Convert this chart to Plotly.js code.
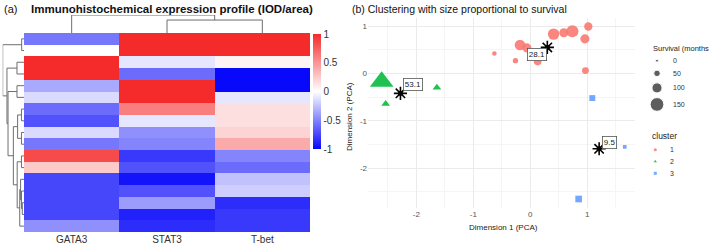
<!DOCTYPE html>
<html>
<head>
<meta charset="utf-8">
<script src="https://cdn.plot.ly/plotly-3.0.1.min.js"></script>
<style>html,body{margin:0;padding:0;background:#fff;}#chart{width:709px;height:245px;}</style>
</head>
<body>
<div id="chart"></div>
<script>
// ---------- Panel (a): heatmap data ----------
const colLabels = ['GATA3', 'STAT3', 'T-bet'];
const gata3 = [-0.55, 0, 1, 1, -0.35, -0.15, -0.6, -0.7, -0.15, -0.55, 0.85, 0.25, -0.75, -0.75, -0.75, -0.75, -0.45];
const stat3 = [1, 1, -0.1, -0.6, 1, 1, 0.6, -0.1, -0.45, -0.5, -0.8, -0.7, -0.95, -0.7, -0.4, -0.9, -0.85];
const tbet  = [1, 1, 0.05, -1, -1, -0.1, 0.15, 0.15, 0.2, 0.4, -0.5, -0.6, -0.25, -0.2, -0.85, -0.8, -0.8];
const colorbarTicks = [-1, -0.5, 0, 0.5, 1];

// Row dendrogram (hclust-style merges: negative = leaf, positive = earlier merge)
const rowMerge = [[-1,-2],[-3,-4],[-5,-6],[-7,-8],[-9,-10],[4,5],[-11,-12],[-15,-16],[-14,8],[-13,9],[10,-17],[7,11],[6,12],[3,13],[2,14],[1,15]];
const rowHeight = [0.11, 0.33, 0.33, 0.12, 0.12, 0.30, 0.12, 0.08, 0.12, 0.16, 0.20, 0.32, 0.50, 0.75, 0.80, 1.00];
// Column dendrogram
const colMerge = [[-2,-3],[-1,1]];
const colHeight = [0.72, 1.0];

// ---------- Panel (b): scatter data ----------
const c1x = [-0.63, -0.26, -0.18, -0.06, 0.13, 0.41, 0.59, 0.74, 0.96, 1.02, 0.97];
const c1y = [0.42, 0.27, 0.60, 0.54, 0.25, 0.83, 0.86, 0.89, 0.73, 0.99, 0.06];
const c1surv = [19, 29, 96, 77, 58, 106, 77, 116, 77, 67, 48];
const c2x = [-2.61, -1.64, -2.54];
const c2y = [-0.17, -0.30, -0.64];
const c2surv = [150, 30, 30];
const c3x = [1.09, 1.66, 0.85];
const c3y = [-0.52, -1.55, -2.65];
const c3surv = [42, 11, 52];
const centroidX = [0.30, -2.28, 1.21];
const centroidY = [0.55, -0.42, -1.59];
const centroidLabel = ['28.1', '53.1', '9.5'];
const clusterNames = ['1', '2', '3'];
const survivalBreaks = [0, 50, 100, 150];
const xTicks = [-2, -1, 0, 1];
const yTicks = [-2, -1, 0, 1];

// ---------- helpers ----------
const W = 709, H = 245;
const px = v => v / W;
const py = v => 1 - v / H;
function circleSize(s) { return 2.9 + 0.072 * s; }
const symScale = {circle: 1.08, 'triangle-up': 1.5, square: 1.0};
const clusterColors = ['#F8766D', '#00BA38', '#619CFF'];
const clusterSymbols = ['circle', 'triangle-up', 'square'];

function dendro(merge, height) {
  const nodePos = [], nodeH = [], Hs = [], Ps = [];
  const info = id => id < 0 ? [(-id) - 1, 0] : [nodePos[id - 1], nodeH[id - 1]];
  merge.forEach((m, k) => {
    const [pa, ha] = info(m[0]);
    const [pb, hb] = info(m[1]);
    const h = height[k];
    Hs.push(ha, h, h, hb, null);
    Ps.push(pa, pa, pb, pb, null);
    nodePos.push((pa + pb) / 2);
    nodeH.push(h);
  });
  return {H: Hs, P: Ps};
}

const nRows = gata3.length;
const z = gata3.map((g, i) => [g, stat3[i], tbet[i]]);
const rowIdx = gata3.map((_, i) => i);

const traces = [];
traces.push({
  type: 'heatmap', z: z, x: [0, 1, 2], y: rowIdx, xaxis: 'x', yaxis: 'y',
  zmin: -1, zmax: 1,
  colorscale: [[0, 'rgb(8,8,250)'], [0.5, 'rgb(255,255,255)'], [1, 'rgb(245,42,42)']],
  hoverinfo: 'skip',
  colorbar: {
    x: px(313), xanchor: 'left', xref: 'paper', y: py(34), yanchor: 'top', yref: 'paper',
    len: 115, lenmode: 'pixels', thickness: 8, thicknessmode: 'pixels',
    outlinewidth: 0, xpad: 0, ypad: 0, ticks: '',
    tickvals: colorbarTicks, ticktext: colorbarTicks.map(String),
    tickfont: {size: 10, color: '#333', family: 'Liberation Sans, Arial, sans-serif'}
  }
});

const rd = dendro(rowMerge, rowHeight);
traces.push({type: 'scatter', mode: 'lines', x: rd.H, y: rd.P, xaxis: 'x3', yaxis: 'y',
  line: {color: '#6e6e6e', width: 1}, hoverinfo: 'skip', connectgaps: false});
const cd = dendro(colMerge, colHeight);
traces.push({type: 'scatter', mode: 'lines', x: cd.P, y: cd.H, xaxis: 'x', yaxis: 'y3',
  line: {color: '#6e6e6e', width: 1}, hoverinfo: 'skip', connectgaps: false});

// scatter points
const groups = [[c1x, c1y, c1surv], [c2x, c2y, c2surv], [c3x, c3y, c3surv]];
groups.forEach((g, k) => {
  traces.push({type: 'scatter', mode: 'markers', x: g[0], y: g[1], xaxis: 'x2', yaxis: 'y2',
    marker: {symbol: clusterSymbols[k], color: clusterColors[k], opacity: 0.88,
      size: g[2].map(s => circleSize(s) * symScale[clusterSymbols[k]]), line: {width: 0}},
    hoverinfo: 'skip'});
});
// centroids
traces.push({type: 'scatter', mode: 'markers', x: centroidX, y: centroidY, xaxis: 'x2', yaxis: 'y2',
  marker: {symbol: 'asterisk-open', size: 11, color: '#000', line: {color: '#000', width: 1.6}}, hoverinfo: 'skip'});
traces.push({type: 'scatter', mode: 'markers', x: centroidX, y: centroidY, xaxis: 'x2', yaxis: 'y2',
  marker: {symbol: 'circle', size: 5, color: '#000'}, hoverinfo: 'skip'});

// legends (drawn on a pixel overlay axis)
const legSizes = survivalBreaks.map(circleSize);
const legY = [60.7];
for (let i = 1; i < legSizes.length; i++) legY.push(legY[i - 1] + 10.1 + 0.27 * (legSizes[i - 1] + legSizes[i]));
traces.push({type: 'scatter', mode: 'markers', x: survivalBreaks.map(() => 657), y: legY, xaxis: 'x4', yaxis: 'y4',
  marker: {color: '#1a1a1a', size: legSizes}, hoverinfo: 'skip', cliponaxis: false});
const clY = clusterNames.map((_, i) => 149.7 + i * 11.8);
traces.push({type: 'scatter', mode: 'markers', x: clusterNames.map(() => 655.3), y: clY, xaxis: 'x4', yaxis: 'y4',
  marker: {color: clusterColors, symbol: clusterSymbols, size: 3, opacity: 0.85}, hoverinfo: 'skip', cliponaxis: false});

const FONT = 'Liberation Sans, Arial, sans-serif';
const ann = [];
ann.push({xref: 'paper', yref: 'paper', x: px(2), y: py(9), xanchor: 'left', yanchor: 'middle', showarrow: false,
  text: '(a)', font: {size: 11, color: '#111', family: FONT}});
ann.push({xref: 'paper', yref: 'paper', x: px(171.7), y: py(9), xanchor: 'center', yanchor: 'middle', showarrow: false,
  text: '<b>Immunohistochemical expression profile (IOD/area)</b>', font: {size: 11.5, color: '#111', family: FONT}});
ann.push({xref: 'paper', yref: 'paper', x: px(350), y: py(9), xanchor: 'left', yanchor: 'middle', showarrow: false,
  text: '(b) Clustering with size proportional to survival', font: {size: 10.5, color: '#111', family: FONT}});
ann.push({xref: 'paper', yref: 'paper', x: px(503), y: py(227), xanchor: 'center', yanchor: 'middle', showarrow: false,
  text: 'Dimension 1 (PCA)', font: {size: 8, color: '#222', family: FONT}});
ann.push({xref: 'paper', yref: 'paper', x: px(350), y: py(117), xanchor: 'center', yanchor: 'middle', showarrow: false,
  textangle: -90, text: 'Dimension 2 (PCA)', font: {size: 8, color: '#222', family: FONT}});
// centroid labels
const labShift = [[-10, -7], [12.5, 8.6], [10.7, 6.7]];
centroidLabel.forEach((t, k) => {
  ann.push({xref: 'x2', yref: 'y2', x: centroidX[k], y: centroidY[k], xshift: labShift[k][0], yshift: labShift[k][1],
    xanchor: 'center', yanchor: 'middle', showarrow: false, text: t,
    font: {size: 8, color: '#222', family: FONT}, bgcolor: '#fff', bordercolor: '#555', borderwidth: 0.8, borderpad: 1});
});
// legend texts
ann.push({xref: 'paper', yref: 'paper', x: px(651), y: py(48.3), xanchor: 'left', yanchor: 'middle', showarrow: false,
  text: 'Survival (months', font: {size: 7.5, color: '#222', family: FONT}});
survivalBreaks.forEach((b, i) => ann.push({xref: 'paper', yref: 'paper', x: px(670.7), y: py(legY[i]), xanchor: 'left', yanchor: 'middle',
  showarrow: false, text: String(b), font: {size: 7, color: '#333', family: FONT}}));
ann.push({xref: 'paper', yref: 'paper', x: px(650), y: py(135.7), xanchor: 'left', yanchor: 'middle', showarrow: false,
  text: 'cluster', font: {size: 8.5, color: '#222', family: FONT}});
clusterNames.forEach((c, i) => ann.push({xref: 'paper', yref: 'paper', x: px(667.7), y: py(clY[i]), xanchor: 'left', yanchor: 'middle',
  showarrow: false, text: c, font: {size: 7, color: '#333', family: FONT}}));

const layout = {
  width: W, height: H, margin: {l: 0, r: 0, t: 0, b: 0}, paper_bgcolor: '#fff', plot_bgcolor: 'rgba(0,0,0,0)',
  showlegend: false, font: {family: FONT},
  xaxis: {domain: [px(24), px(310)], range: [-0.5, 2.5], anchor: 'y', tickvals: [0, 1, 2], ticktext: colLabels,
    ticks: '', showgrid: false, zeroline: false, showline: false, tickfont: {size: 10, color: '#333'}},
  yaxis: {domain: [py(232), py(33)], range: [nRows - 0.5, -0.5], anchor: 'x', visible: false},
  xaxis2: {domain: [px(368), px(635)], range: [-2.85, 1.84], anchor: 'y2', tickvals: xTicks, ticktext: xTicks.map(String),
    ticks: '', showline: false, zeroline: false, gridcolor: '#ebebeb', gridwidth: 1, tickfont: {size: 8, color: '#555'},
    minor: {tickvals: [-2.5, -1.5, -0.5, 0.5, 1.5], showgrid: true, gridcolor: '#f5f5f5', gridwidth: 1, ticks: ''}},
  yaxis2: {domain: [py(208), py(18)], range: [-2.84, 1.17], anchor: 'x2', tickvals: yTicks, ticktext: yTicks.map(String),
    ticks: '', showline: false, zeroline: false, gridcolor: '#ebebeb', gridwidth: 1, tickfont: {size: 8, color: '#555'},
    minor: {tickvals: [-2.5, -1.5, -0.5, 0.5], showgrid: true, gridcolor: '#f5f5f5', gridwidth: 1, ticks: ''}},
  xaxis3: {domain: [px(2.7), px(24)], range: [1, 0], anchor: 'y', visible: false},
  yaxis3: {domain: [py(33), py(15)], range: [0, 1], anchor: 'x', visible: false},
  xaxis4: {domain: [0, 1], range: [0, W], anchor: 'y4', visible: false},
  yaxis4: {domain: [0, 1], range: [H, 0], anchor: 'x4', visible: false},
  annotations: ann
};

Plotly.newPlot('chart', traces, layout, {staticPlot: true, displayModeBar: false});
</script>
</body>
</html>
